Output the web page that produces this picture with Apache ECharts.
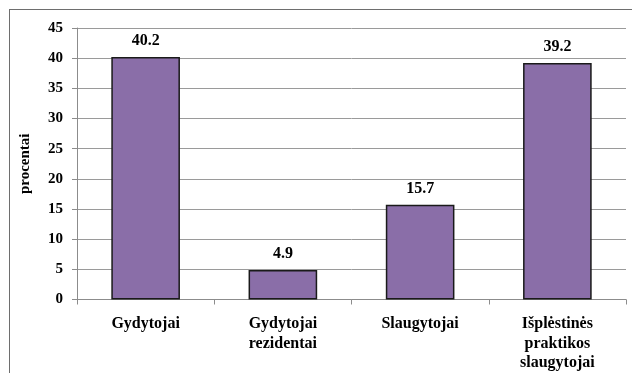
<!DOCTYPE html>
<html>
<head>
<meta charset="utf-8">
<script src="https://cdn.jsdelivr.net/npm/echarts@6/dist/echarts.min.js"></script>
<style>
  html, body { margin: 0; padding: 0; background: #fff; }
  #frame { position: absolute; left: 9px; top: 9px; width: 640px; height: 400px; border: 1px solid #6e6e6e; box-sizing: border-box; }
  #chart { position: absolute; left: 0; top: 0; width: 632px; height: 373px; }
</style>
</head>
<body>
<div id="frame"></div>
<div id="chart"></div>
<script>
const categories = ['Gydytojai', 'Gydytojai\nrezidentai', 'Slaugytojai', 'Išplėstinės\npraktikos\nslaugytojai'];
const values = [40.2, 4.9, 15.7, 39.2];
const axisTitle = 'procentai';

const font = '"Liberation Serif", "Times New Roman", serif';
const chart = echarts.init(document.getElementById('chart'), null, { renderer: 'canvas' });
chart.setOption({
  animation: false,
  grid: { left: 77, right: 6, top: 28, bottom: 73 },
  xAxis: {
    type: 'category',
    data: categories,
    axisLine: { lineStyle: { color: '#8c8c8c', width: 1 } },
    axisTick: { show: true, alignWithLabel: false, length: 5, lineStyle: { color: '#8c8c8c' } },
    axisLabel: { color: '#000', fontFamily: font, fontWeight: 'bold', fontSize: 16, lineHeight: 19.5, margin: 15, interval: 0 }
  },
  yAxis: {
    type: 'value',
    min: 0, max: 45, interval: 5,
    name: axisTitle,
    nameLocation: 'middle',
    nameGap: 44,
    nameTextStyle: { color: '#000', fontFamily: font, fontWeight: 'bold', fontSize: 15 },
    axisLine: { show: true, lineStyle: { color: '#8c8c8c', width: 1 } },
    axisTick: { show: true, length: 5, lineStyle: { color: '#8c8c8c' } },
    axisLabel: { color: '#000', fontFamily: font, fontWeight: 'bold', fontSize: 15, margin: 14 },
    splitLine: { lineStyle: { color: '#9a9a9a', width: 1 } }
  },
  series: [{
    type: 'bar',
    data: values,
    barWidth: '50%',
    itemStyle: { color: '#8a6ea8', borderColor: '#1a1a1a', borderWidth: 1.5 },
    label: { show: true, position: 'top', distance: 8, color: '#000', fontFamily: font, fontWeight: 'bold', fontSize: 16, formatter: p => p.value.toFixed(1) }
  }]
});
</script>
</body>
</html>
